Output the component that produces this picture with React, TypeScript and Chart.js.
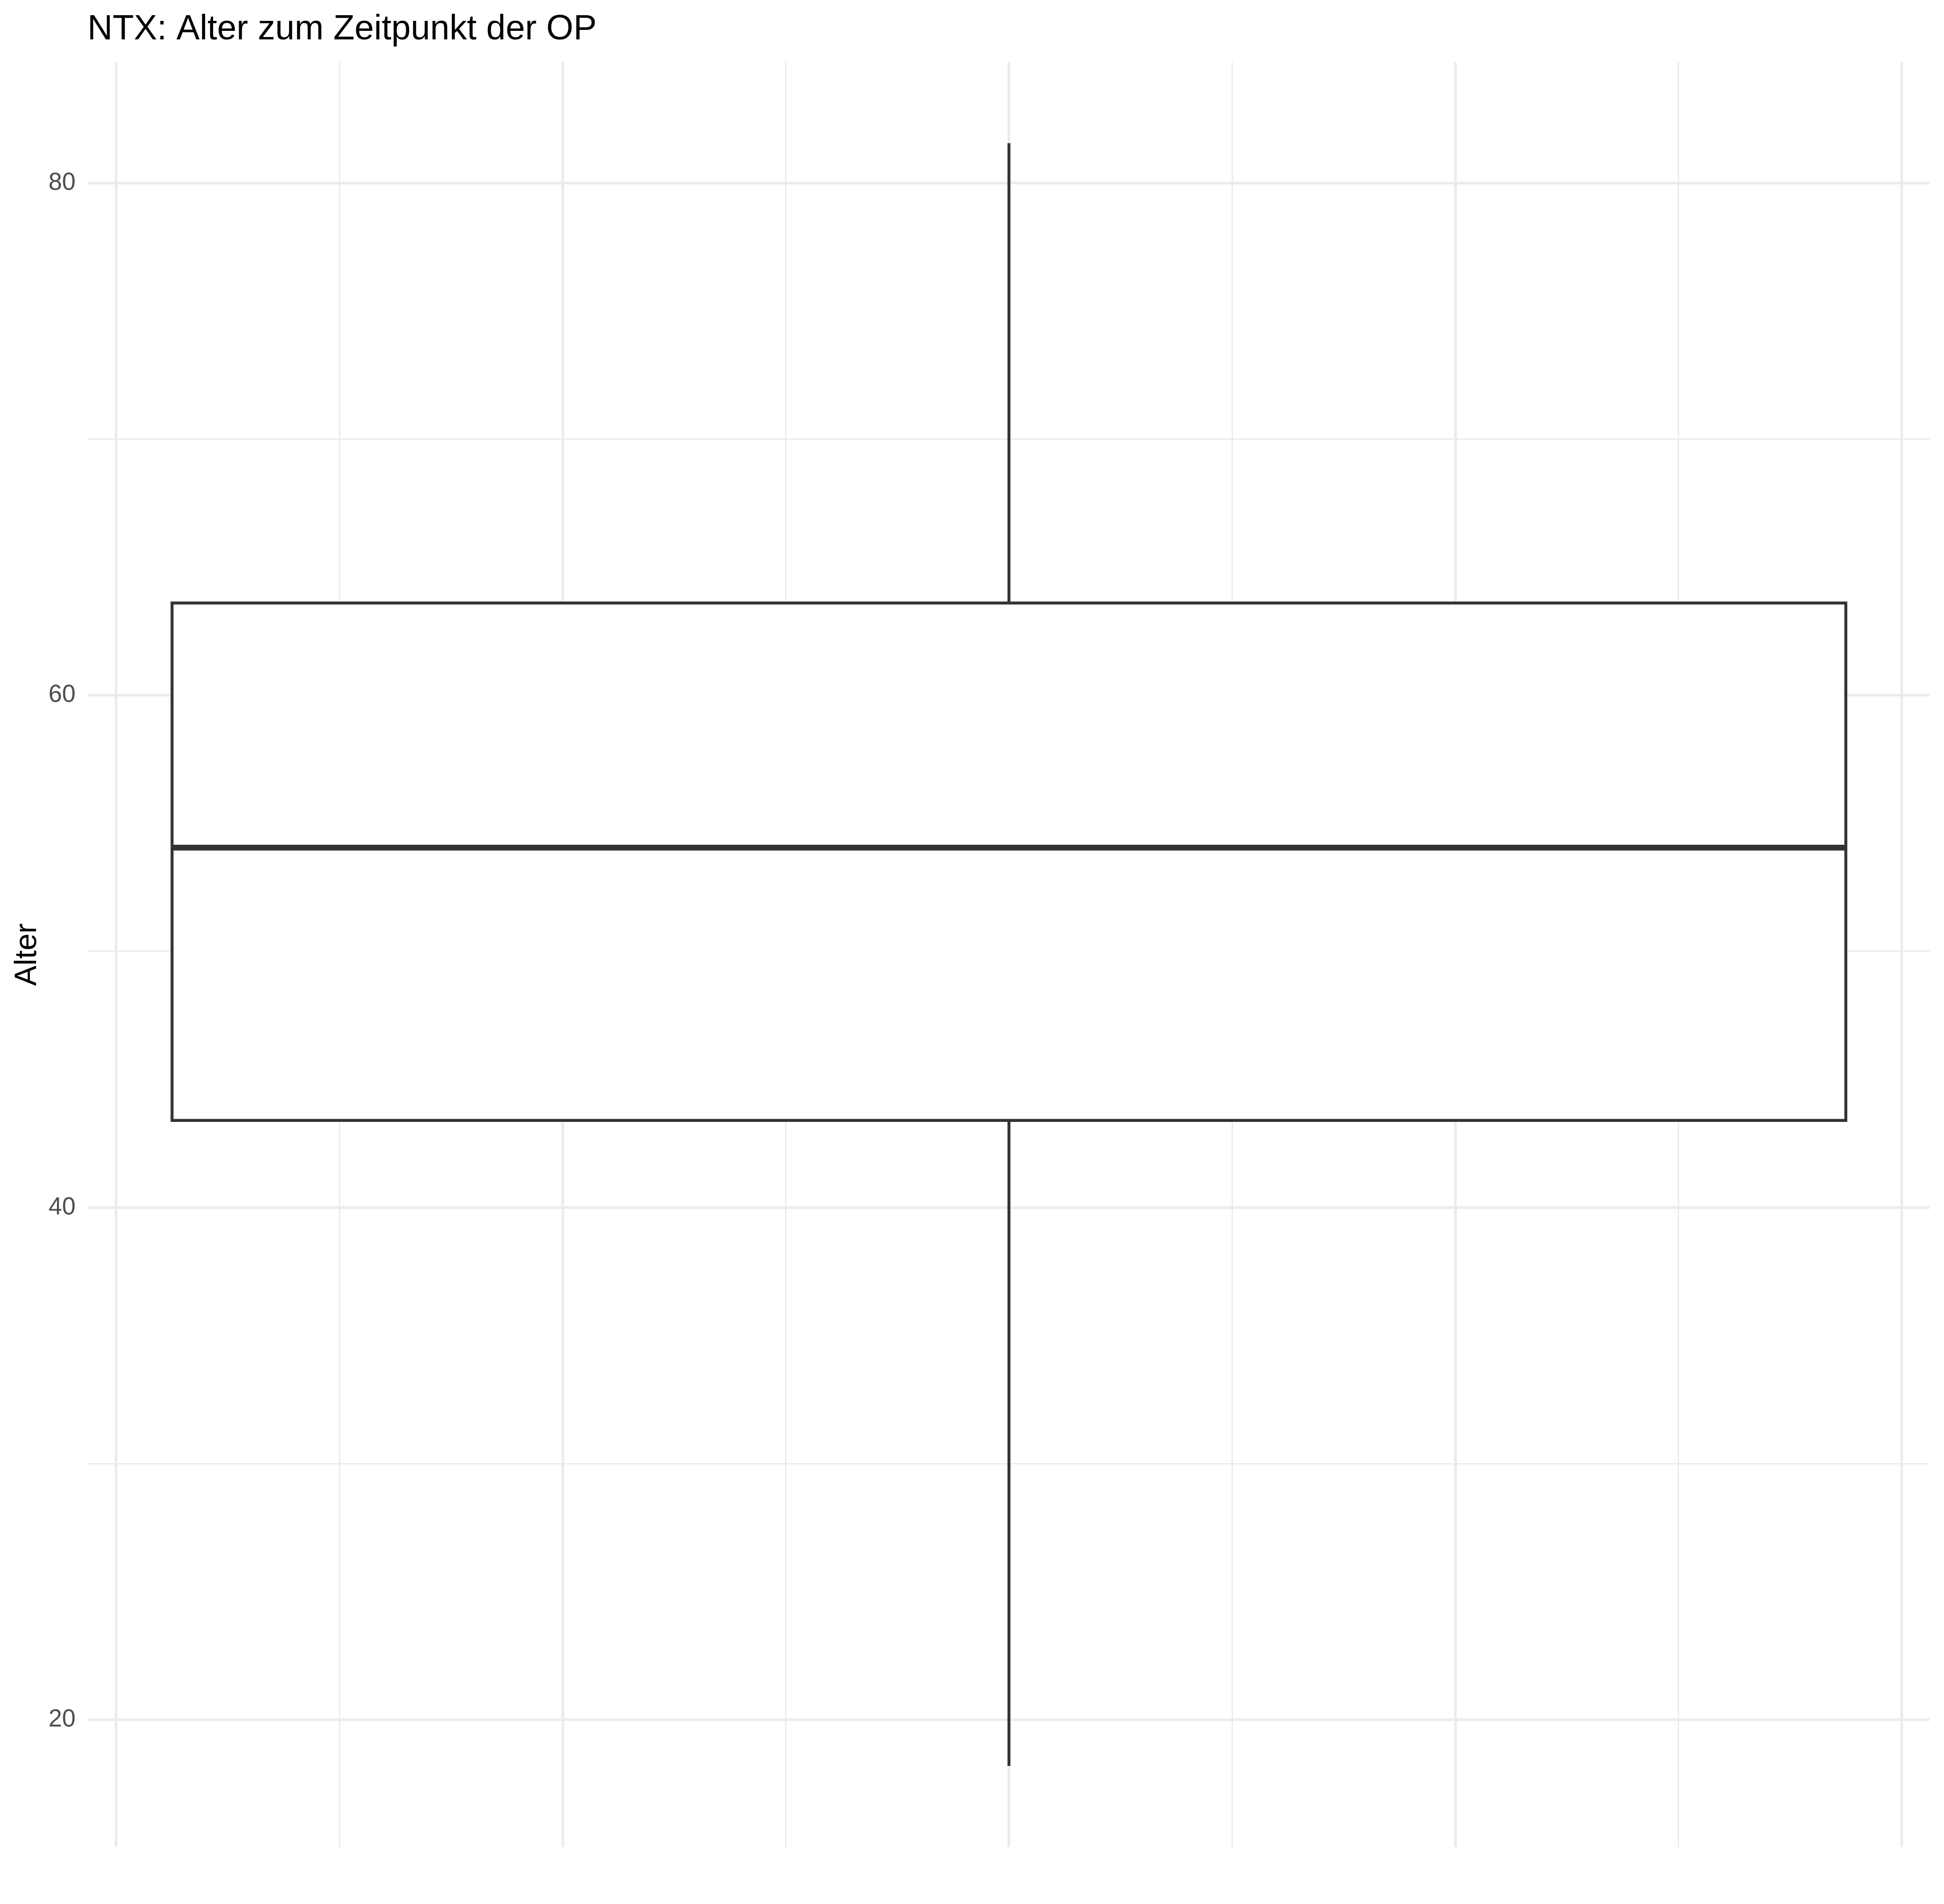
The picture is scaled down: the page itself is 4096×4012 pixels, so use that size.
import React, { useEffect, useRef } from "react";
import { Chart, registerables } from "chart.js";

Chart.register(...registerables);

// ---- data ----
const categories = ["NTX"];
const whiskerLow = [18.2];
const q1 = [43.4];
const median = [54.05];
const q3 = [63.6];
const whiskerHigh = [81.55];

const yMajorTicks = [20, 40, 60, 80];
const yMinorTicks = [30, 50, 70];
const xMajorTicks = [-0.4, -0.2, 0, 0.2, 0.4];
const xMinorTicks = [-0.3, -0.1, 0.1, 0.3];

const titleText = "NTX: Alter zum Zeitpunkt der OP";
const yTitleText = "Alter";

// ---- style ----
const S = 0.999;
const W = 4096;
const H = 4012;
const FONT = "'Liberation Sans', Arial, Helvetica, sans-serif";
const BOX_HALF = 0.375;
const LINE = "#333333";
const GRID = "#EBEBEB";

export default function App() {
  const ref = useRef<HTMLCanvasElement | null>(null);

  useEffect(() => {
    const canvas = ref.current;
    if (!canvas) return;
    const i = 0;
    const lo = whiskerLow[i];
    const hi = whiskerHigh[i];
    const r = hi - lo;
    const yMin = lo - 0.05 * r;
    const yMax = hi + 0.05 * r;
    const xLim = BOX_HALF * 1.1;

    const yTicks = [...yMajorTicks, ...yMinorTicks].sort((a, b) => a - b);
    const xTicks = [...xMajorTicks, ...xMinorTicks].sort((a, b) => a - b);
    const isMajorY = (v: number) => yMajorTicks.some((m) => Math.abs(m - v) < 1e-9);
    const isMajorX = (v: number) => xMajorTicks.some((m) => Math.abs(m - v) < 1e-9);

    const textPlugin = {
      id: "texts",
      afterDraw(chart: any) {
        const ctx = chart.ctx;
        const ca = chart.chartArea;
        ctx.save();
        ctx.fillStyle = "#000000";
        ctx.textBaseline = "alphabetic";
        ctx.textAlign = "left";
        ctx.font = `${73.5 * S}px ${FONT}`;
        ctx.fillText(titleText, 184.4 * S, 83.3 * S);
        ctx.translate(76 * S, (ca.top + ca.bottom) / 2);
        ctx.rotate(-Math.PI / 2);
        ctx.textAlign = "center";
        ctx.font = `${64 * S}px ${FONT}`;
        ctx.fillText(yTitleText, 0, 0);
        ctx.restore();
      },
    };

    const chart = new Chart(canvas, {
      type: "scatter",
      data: {
        datasets: [
          {
            label: categories[i] + " median",
            data: [
              { x: -BOX_HALF, y: median[i] },
              { x: BOX_HALF, y: median[i] },
            ],
            showLine: true,
            borderColor: LINE,
            borderWidth: 12.4 * S,
            pointRadius: 0,
            fill: false,
            order: 0,
          },
          {
            label: categories[i] + " box",
            data: [
              { x: -BOX_HALF, y: q1[i] },
              { x: -BOX_HALF, y: q3[i] },
              { x: BOX_HALF, y: q3[i] },
              { x: BOX_HALF, y: q1[i] },
              { x: -BOX_HALF, y: q1[i] },
              { x: -BOX_HALF, y: q3[i] },
            ],
            showLine: true,
            borderColor: LINE,
            borderWidth: 6.2 * S,
            borderJoinStyle: "miter",
            backgroundColor: "#FFFFFF",
            pointRadius: 0,
            fill: "shape",
            order: 1,
          },
          {
            label: categories[i] + " upper whisker",
            data: [
              { x: 0, y: q3[i] },
              { x: 0, y: whiskerHigh[i] },
            ],
            showLine: true,
            borderColor: LINE,
            borderWidth: 6.2 * S,
            pointRadius: 0,
            fill: false,
            order: 2,
          },
          {
            label: categories[i] + " lower whisker",
            data: [
              { x: 0, y: whiskerLow[i] },
              { x: 0, y: q1[i] },
            ],
            showLine: true,
            borderColor: LINE,
            borderWidth: 6.2 * S,
            pointRadius: 0,
            fill: false,
            order: 2,
          },
        ],
      },
      options: {
        animation: false,
        responsive: false,
        devicePixelRatio: 1,
        layout: {
          padding: { left: 0, right: W - 4065.5, top: 130.9, bottom: H - 3892 },
        },
        plugins: {
          legend: { display: false },
          title: { display: false },
          tooltip: { enabled: false },
        },
        scales: {
          x: {
            type: "linear",
            min: -xLim,
            max: xLim,
            afterBuildTicks: (scale: any) => {
              scale.ticks = xTicks.map((v) => ({ value: v }));
            },
            afterFit: (scale: any) => {
              scale.height = 0;
            },
            ticks: { display: false },
            border: { display: false },
            grid: {
              drawTicks: false,
              color: GRID,
              lineWidth: (c: any) => (isMajorX(c.tick.value) ? 5.5 * S : 2.8 * S),
            },
          },
          y: {
            type: "linear",
            min: yMin,
            max: yMax,
            afterBuildTicks: (scale: any) => {
              scale.ticks = yTicks.map((v) => ({ value: v }));
            },
            afterFit: (scale: any) => {
              scale.width = 186.2;
            },
            border: { display: false },
            grid: {
              drawTicks: false,
              color: GRID,
              lineWidth: (c: any) => (isMajorY(c.tick.value) ? 5.5 * S : 2.8 * S),
            },
            ticks: {
              autoSkip: false,
              padding: 27,
              color: "#4D4D4D",
              font: { family: FONT, size: 51.2 * S },
              callback: (v: any) => (isMajorY(Number(v)) ? String(v) : ""),
            },
          },
        },
      },
      plugins: [textPlugin],
    } as any);

    return () => chart.destroy();
  }, []);

  return (
    <div style={{ position: "absolute", left: 0, top: 0, width: W, height: H, background: "#FFFFFF" }}>
      <canvas ref={ref} width={W} height={H} style={{ display: "block", width: W, height: H }} />
    </div>
  );
}
